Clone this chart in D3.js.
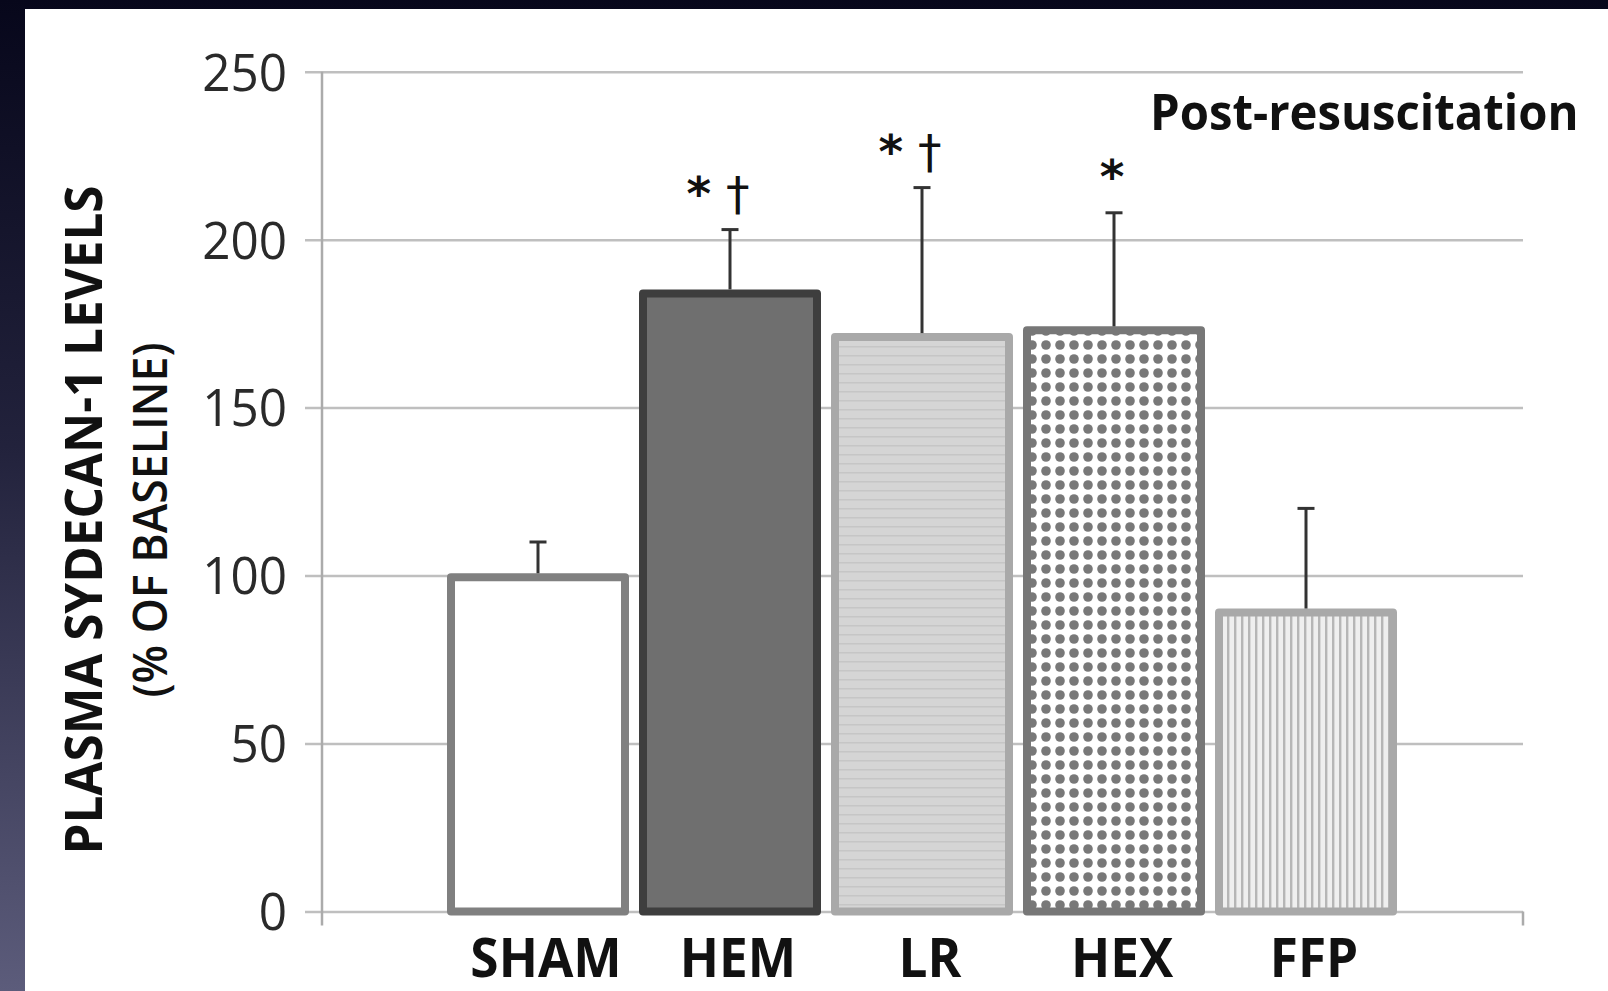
<!DOCTYPE html>
<html>
<head>
<meta charset="utf-8">
<script src="https://cdn.jsdelivr.net/npm/d3@7/dist/d3.min.js"></script>
<style>
  html, body { margin: 0; padding: 0; background: #ffffff; }
  svg { display: block; }
</style>
</head>
<body>
<svg id="chart" width="1608" height="991"></svg>
<script>
// ---- data ----
const categories = ["SHAM", "HEM", "LR", "HEX", "FFP"];
const meanValues = [99.5, 184, 171, 173, 89];
const errorValues = [10.5, 19, 44.5, 35, 31];
const annotations = ["", "* \u2020", "* \u2020", "*", ""];
const yTickValues = [0, 50, 100, 150, 200, 250];
const yTitleLines = ["PLASMA SYDECAN-1 LEVELS", "(% OF BASELINE)"];
const panelTitle = "Post-resuscitation";

// ---- setup ----
const svg = d3.select("#chart");
const W = 1608, H = 991;
const plotLeft = 322, plotRight = 1523, gridStart = 305;

const defs = svg.append("defs");
const bg = defs.append("linearGradient").attr("id", "bgGrad")
  .attr("x1", 0).attr("y1", 0).attr("x2", 0).attr("y2", 1);
bg.append("stop").attr("offset", "0%").attr("stop-color", "#07071b");
bg.append("stop").attr("offset", "45%").attr("stop-color", "#22223c");
bg.append("stop").attr("offset", "100%").attr("stop-color", "#5c5c7b");

// patterns
const pLR = defs.append("pattern").attr("id", "patLR").attr("patternUnits", "userSpaceOnUse")
  .attr("width", 10).attr("height", 9);
pLR.append("rect").attr("width", 10).attr("height", 9).attr("fill", "#d5d5d5");
pLR.append("rect").attr("y", 4).attr("width", 10).attr("height", 1.5).attr("fill", "#c6c6c6");

const pHEX = defs.append("pattern").attr("id", "patHEX").attr("patternUnits", "userSpaceOnUse")
  .attr("width", 14).attr("height", 14).attr("x", 3).attr("y", 2);
pHEX.append("rect").attr("width", 14).attr("height", 14).attr("fill", "#ffffff");
pHEX.append("circle").attr("cx", 7).attr("cy", 7).attr("r", 4.8).attr("fill", "#787878");

const pFFP = defs.append("pattern").attr("id", "patFFP").attr("patternUnits", "userSpaceOnUse")
  .attr("width", 7).attr("height", 10);
pFFP.append("rect").attr("width", 7).attr("height", 10).attr("fill", "#efefef");
pFFP.append("rect").attr("x", 2).attr("width", 2.4).attr("height", 10).attr("fill", "#b6b6b6");

const barFills = ["#ffffff", "#6f6f6f", "url(#patLR)", "url(#patHEX)", "url(#patFFP)"];
const barStrokes = ["#808080", "#3e3e3e", "#a9a9a9", "#777777", "#a9a9a9"];

// background
svg.append("rect").attr("width", W).attr("height", H).attr("fill", "url(#bgGrad)");
svg.append("rect").attr("x", 25).attr("y", 9).attr("width", W - 25).attr("height", H - 9).attr("fill", "#ffffff");

// scales
const y = d3.scaleLinear().domain([0, 250]).range([911.5, 71.7]);
const x = d3.scaleBand().domain(categories).range([442, 1402])
  .paddingInner(10 / 192).paddingOuter(5 / 192);

// y axis with gridlines
const yAxis = d3.axisLeft(y).tickValues(yTickValues)
  .tickSize(-(plotRight - gridStart)).tickPadding(18);
const gy = svg.append("g").attr("transform", `translate(${gridStart},0)`).call(yAxis);
gy.select(".domain").remove();
gy.selectAll(".tick line").attr("stroke", "#bfbfbf").attr("stroke-width", 2.5);
gy.selectAll(".tick text")
  .attr("fill", "#2a2a2a")
  .style("font-family", "'Open Sans', 'Noto Sans', sans-serif")
  .style("font-size", "51px")
  .attr("dy", "0.36em");

// vertical axis line + end tick
svg.append("line").attr("x1", plotLeft).attr("x2", plotLeft).attr("y1", y(250)).attr("y2", y(0) + 14)
  .attr("stroke", "#ababab").attr("stroke-width", 2.5);
svg.append("line").attr("x1", plotRight).attr("x2", plotRight).attr("y1", y(0)).attr("y2", y(0) + 14)
  .attr("stroke", "#ababab").attr("stroke-width", 2.5);

// bars
const sw = 8;
const data = categories.map((c, i) => ({ c, v: meanValues[i], e: errorValues[i], a: annotations[i], i }));
svg.append("g").selectAll("rect").data(data).join("rect")
  .attr("x", d => x(d.c) + sw / 2)
  .attr("width", x.bandwidth() - sw)
  .attr("y", d => y(d.v))
  .attr("height", d => y(0) - y(d.v))
  .attr("fill", d => barFills[d.i])
  .attr("stroke", d => barStrokes[d.i])
  .attr("stroke-width", sw)
  .attr("stroke-linejoin", "round");

// error bars
const eg = svg.append("g").attr("stroke", "#333").attr("stroke-width", 3);
const cx = d => x(d.c) + x.bandwidth() / 2;
eg.selectAll("line.v").data(data).join("line").attr("class", "v")
  .attr("x1", cx).attr("x2", cx)
  .attr("y1", d => y(d.v) - sw / 2).attr("y2", d => y(d.v + d.e));
eg.selectAll("line.cap").data(data).join("line").attr("class", "cap")
  .attr("x1", d => cx(d) - 8.5).attr("x2", d => cx(d) + 8.5)
  .attr("y1", d => y(d.v + d.e)).attr("y2", d => y(d.v + d.e));

// significance annotations (asterisk bold, dagger regular)
const ann = svg.append("g").selectAll("text").data(data.filter(d => d.a)).join("text")
  .attr("x", d => cx(d) - (d.a.length > 1 ? 12 : 2))
  .attr("y", d => y(d.v + d.e) - 20)
  .attr("text-anchor", "middle")
  .attr("fill", "#111")
  .style("font-family", "'DejaVu Sans', sans-serif")
  .style("font-size", "47px");
ann.each(function (d) {
  const t = d3.select(this);
  Array.from(d.a).forEach(ch => {
    t.append("tspan").style("font-weight", ch === "*" ? "bold" : "normal").text(ch);
  });
});

// x labels
const xAxis = d3.axisBottom(x).tickSize(0).tickPadding(0);
const gx = svg.append("g").attr("transform", `translate(8,${y(0)})`).call(xAxis);
gx.select(".domain").remove();
gx.selectAll(".tick text")
  .attr("y", 65).attr("dy", 0)
  .attr("fill", "#111")
  .style("font-family", "'Open Sans', 'Noto Sans', sans-serif")
  .style("font-weight", "bold")
  .style("font-size", "54px");

// title
const titleText = svg.append("text").attr("x", 1150).attr("y", 130)
  .attr("fill", "#111")
  .style("font-family", "'Open Sans', 'Noto Sans', sans-serif")
  .style("font-weight", "bold").style("font-size", "50px")
  .text(panelTitle);

// y axis title
const yt = svg.append("text")
  .attr("transform", "translate(0,520) rotate(-90)")
  .attr("text-anchor", "middle")
  .attr("fill", "#111")
  .style("font-family", "'Open Sans', 'Noto Sans', sans-serif");
yt.append("tspan").attr("x", 0).attr("y", 102)
  .style("font-weight", "bold").style("font-size", "52px").text(yTitleLines[0]);
yt.append("tspan").attr("x", 0).attr("y", 167)
  .style("font-weight", "600").style("font-size", "47px").text(yTitleLines[1]);

// condense text widths to mimic the narrow original typeface
function condense(sel, k) {
  sel.each(function () {
    const len = this.getComputedTextLength();
    d3.select(this).attr("textLength", len * k).attr("lengthAdjust", "spacingAndGlyphs");
  });
}
condense(gx.selectAll(".tick text"), 0.95);
condense(gy.selectAll(".tick text"), 0.97);
condense(titleText, 0.945);
condense(yt.select("tspan:nth-child(1)"), 0.95);
condense(yt.select("tspan:nth-child(2)"), 0.95);
</script>
</body>
</html>
